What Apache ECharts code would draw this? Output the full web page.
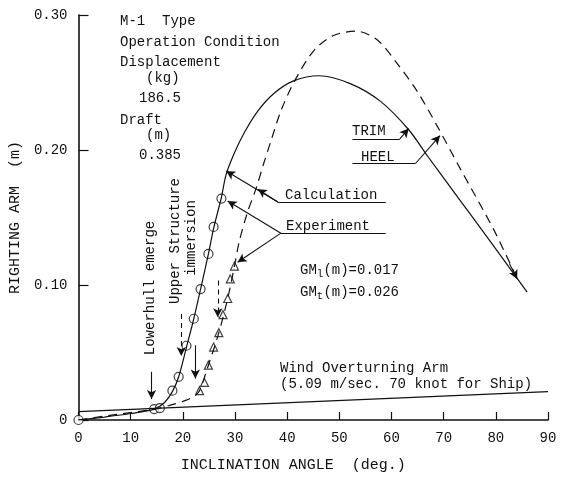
<!DOCTYPE html>
<html>
<head>
<meta charset="utf-8">
<script src="https://cdn.jsdelivr.net/npm/echarts@6/dist/echarts.min.js"></script>
<style>
  html, body { margin: 0; padding: 0; background: #fff; }
  #main { width: 563px; height: 478px; }
</style>
</head>
<body>
<div id="main"></div>
<script>
// righting arm curves, [angle deg, arm m]
var trimCalc = [[0, 0], [5, 0.0022], [10, 0.0048], [14.5, 0.0081], [16.5, 0.013], [18, 0.021],
  [19.2, 0.032], [20.7, 0.054], [22.1, 0.075], [23.4, 0.097], [24.9, 0.123], [25.9, 0.142],
  [27.4, 0.165], [28.3, 0.182], [29.9, 0.198], [31.8, 0.213], [34.4, 0.229], [37.5, 0.242],
  [41.1, 0.251], [46.1, 0.255], [52.2, 0.249], [57.9, 0.236], [63.3, 0.215], [67, 0.195],
  [71, 0.174], [75, 0.153], [79, 0.132], [86, 0.0947]];
var heelCalc = [[0, 0], [7, 0.004], [14.5, 0.0079], [17.8, 0.0112], [20.65, 0.0147], [22.3, 0.018],
  [23.2, 0.0217], [24.9, 0.0406], [26.9, 0.0647], [28.6, 0.09], [29.9, 0.114], [30.8, 0.132],
  [32.4, 0.154], [34, 0.171], [35.5, 0.19], [37, 0.208], [38.8, 0.229], [41.4, 0.251], [45.2, 0.274],
  [49, 0.285], [53.3, 0.288], [57.3, 0.2815], [61.1, 0.264], [65, 0.243], [68.8, 0.2175],
  [73.2, 0.186], [79.6, 0.141], [84.1, 0.1045]];
var trimExp = [[0, 0], [14.5, 0.0081], [15.6, 0.0088], [18, 0.0217], [19.2, 0.032], [20.7, 0.055],
  [22.1, 0.075], [23.4, 0.097], [24.9, 0.123], [25.9, 0.143], [27.4, 0.164]];
var heelExp = [[23.2, 0.0217], [24.15, 0.0278], [24.9, 0.0406], [25.9, 0.054], [26.9, 0.0647],
  [27.7, 0.078], [28.6, 0.09], [29.1, 0.1045], [29.9, 0.114]];
var windArm = [[0, 0.0062], [90, 0.021]];
var xTicks = [0, 10, 20, 30, 40, 50, 60, 70, 80, 90];
var yTicks = ['0', '0.10', '0.20', '0.30'];

var FONT = '"Liberation Mono", "DejaVu Sans Mono", monospace';
var INK = '#111';

// arrows and underlines, in data coords
function seg(a, b, arrow, dashed) {
  return [
    { coord: a, symbol: 'none', lineStyle: { color: INK, width: 1.1, type: dashed ? [5, 4] : 'solid' } },
    { coord: b, symbol: arrow ? 'arrow' : 'none' }
  ];
}
var marks = [
  seg([38.2, 0.1615], [58.9, 0.1615], false),
  seg([38.2, 0.1615], [28.3, 0.1844], true),
  seg([38.2, 0.1615], [34.4, 0.171], true),
  seg([38.8, 0.1384], [58.9, 0.1384], false),
  seg([38.8, 0.1384], [28.6, 0.1622], true),
  seg([38.8, 0.1384], [30.5, 0.1168], true),
  seg([52.5, 0.2083], [61.6, 0.2083], false),
  seg([61.6, 0.2083], [63.3, 0.2159], true),
  seg([52.5, 0.190], [64.6, 0.190], false),
  seg([64.6, 0.190], [69.3, 0.2107], true),
  seg([14, 0.0357], [14, 0.0155], true),
  seg([19.7, 0.0786], [19.7, 0.0475], true, true),
  seg([22.4, 0.0553], [22.4, 0.0307], true),
  seg([26.7, 0.1033], [26.7, 0.0762], true, true),
  seg([82.6, 0.116], [84.1, 0.1045], true)
];

var chart = echarts.init(document.getElementById('main'));

function txt(x, y, s, opt) {
  var o = opt || {};
  return {
    type: 'text', x: x, y: y, rotation: o.rot || 0, silent: true,
    style: {
      text: s, fill: INK, font: (o.size || 14) + 'px ' + FONT,
      align: o.align || 'left', verticalAlign: 'middle', rich: o.rich
    }
  };
}

var option = {
  animation: false,
  backgroundColor: '#fff',
  grid: { left: 78, right: 15, top: 15, bottom: 56 },
  xAxis: {
    type: 'value', min: 0, max: 90, interval: 10,
    name: 'INCLINATION ANGLE  (deg.)', nameLocation: 'middle', nameGap: 38,
    nameTextStyle: { fontFamily: FONT, fontSize: 15, color: INK, padding: [0, 40, 0, 0] },
    axisLine: { lineStyle: { color: INK, width: 1.6 } },
    axisTick: { inside: true, length: 8, lineStyle: { color: INK, width: 1.2 } },
    axisLabel: { fontFamily: FONT, fontSize: 14, color: INK, margin: 11,
      formatter: function (v) { return xTicks.indexOf(v) >= 0 ? String(v) : ''; } },
    splitLine: { show: false }
  },
  yAxis: {
    type: 'value', min: 0, max: 0.3, interval: 0.1,
    name: 'RIGHTING ARM  (m)', nameLocation: 'middle', nameGap: 52, nameRotate: 90,
    nameTextStyle: { fontFamily: FONT, fontSize: 15, color: INK },
    axisLine: { show: true, lineStyle: { color: INK, width: 1.6 } },
    axisTick: { show: true, inside: true, length: 10, lineStyle: { color: INK, width: 1.2 } },
    axisLabel: { fontFamily: FONT, fontSize: 14, color: INK, margin: 11,
      formatter: function (v) { return yTicks[Math.round(v * 10)]; } },
    splitLine: { show: false }
  },
  series: [
    { type: 'line', data: windArm, symbol: 'none', silent: true,
      lineStyle: { color: INK, width: 1.1 } },
    { type: 'line', data: trimCalc, symbol: 'none', smooth: 0.3, silent: true,
      lineStyle: { color: INK, width: 1.2 } },
    { type: 'line', data: heelCalc, symbol: 'none', smooth: 0.3, silent: true,
      lineStyle: { color: INK, width: 1.2, type: [9, 6] } },
    { type: 'scatter', data: trimExp, symbol: 'circle', symbolSize: 9, silent: true,
      itemStyle: { color: '#fff', borderColor: INK, borderWidth: 1.2 } },
    { type: 'scatter', data: heelExp, symbol: 'triangle', symbolSize: 8, silent: true,
      itemStyle: { color: '#fff', borderColor: INK, borderWidth: 1.2 } },
    { type: 'line', data: [], silent: true,
      markLine: { silent: true, symbolSize: [7, 9], label: { show: false },
        emphasis: { disabled: true }, data: marks } }
  ],
  graphic: [
    txt(120, 21, 'M-1  Type'),
    txt(120, 42, 'Operation Condition'),
    txt(120, 62, 'Displacement'),
    txt(146, 78, '(kg)'),
    txt(139, 98, '186.5'),
    txt(120, 120, 'Draft'),
    txt(146, 135, '(m)'),
    txt(139, 155, '0.385'),
    txt(150, 288, 'Lowerhull emerge', { rot: Math.PI / 2, align: 'center' }),
    txt(175, 241, 'Upper Structure', { rot: Math.PI / 2, align: 'center' }),
    txt(191, 238, 'immersion', { rot: Math.PI / 2, align: 'center' }),
    txt(285, 195, 'Calculation'),
    txt(286, 226, 'Experiment'),
    txt(352, 131, 'TRIM'),
    txt(361, 157, 'HEEL'),
    txt(300, 270, '{a|GM}{s|l}{a|(m)=0.017}', { rich: {
      a: { font: '14px ' + FONT, fill: INK },
      s: { font: '11px ' + FONT, fill: INK, padding: [8, 0, 0, 0] } } }),
    txt(300, 292, '{a|GM}{s|t}{a|(m)=0.026}', { rich: {
      a: { font: '14px ' + FONT, fill: INK },
      s: { font: '11px ' + FONT, fill: INK, padding: [8, 0, 0, 0] } } }),
    txt(280, 368, 'Wind Overturning Arm'),
    txt(280, 384, '(5.09 m/sec. 70 knot for Ship)')
  ]
};

chart.setOption(option);
</script>
</body>
</html>
